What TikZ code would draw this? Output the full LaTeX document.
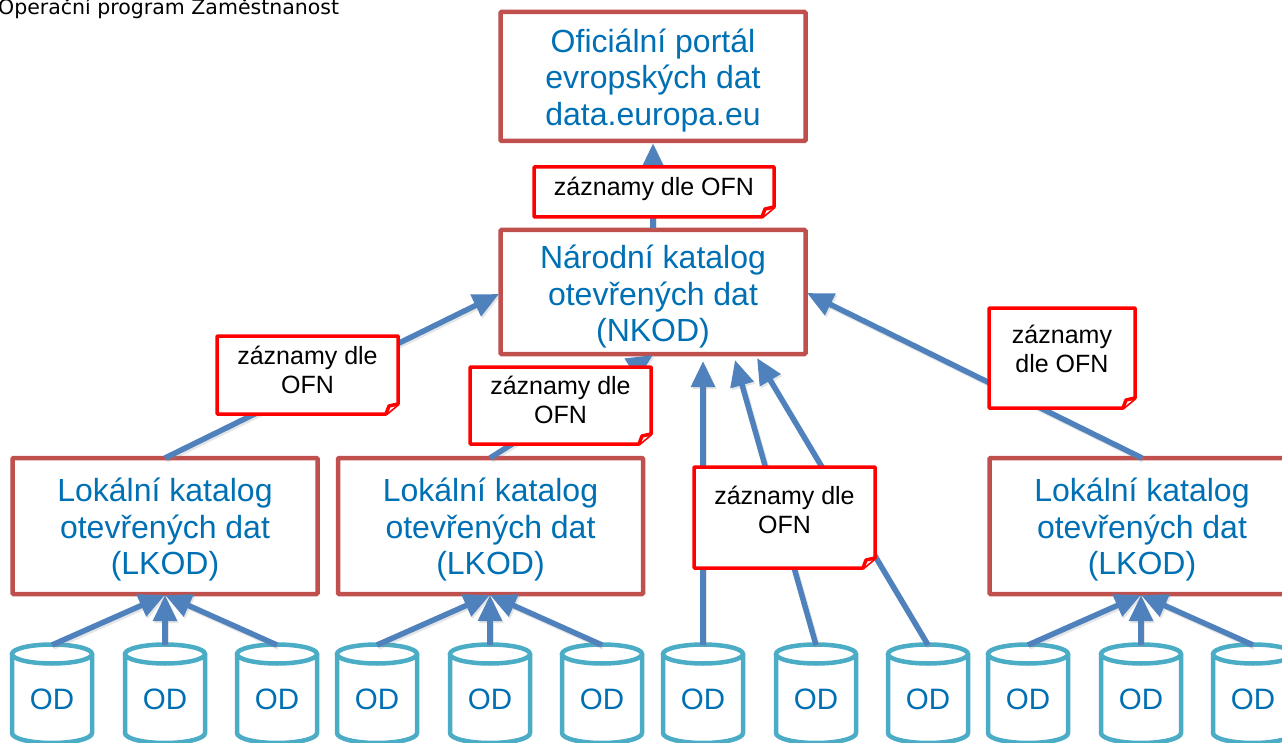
\documentclass[tikz,border=0pt]{standalone}
\usepackage{fontspec}
\setmainfont{Liberation Sans}
\newfontfamily\hdrfont{DejaVu Sans}
\usetikzlibrary{arrows.meta}
\definecolor{boxred}{HTML}{C0504D}
\definecolor{txtblue}{HTML}{0070B5}
\definecolor{cylblue}{HTML}{4BACC6}
\definecolor{arrowblue}{HTML}{4F81BD}
\tikzset{
  x=1pt,y=-1pt,
  mainbox/.style={draw=boxred,line width=4.5pt,fill=white,rounded corners=1pt,minimum width=305pt,inner sep=0pt,align=center,text=txtblue,font=\fontsize{32}{36.5}\selectfont},
  odtext/.style={text=txtblue,font=\fontsize{29.5}{32}\selectfont,inner sep=0pt},
  cylline/.style={draw=cylblue,line width=4.5pt,fill=white},
  notetext/.style={align=center,inner sep=0pt,text=black,font=\fontsize{25}{28.5}\selectfont},
  noteline/.style={draw=red,line width=3.5pt,line join=round,fill=white},
  conn/.style={draw=arrowblue,line width=5.5pt,-{Triangle[length=26pt,width=23pt]},shorten >=0pt},
  connshadow/.style={draw=black!45,opacity=.22,line width=5.5pt,-{Triangle[length=26pt,width=23pt]}},
}
\newcommand{\topgap}[1]{\rule{0pt}{#1pt}}
% name, centre x
\newcommand{\odcyl}[2]{%
  \draw[cylline] (#2-40,654) -- (#2-40,733) arc[start angle=180,end angle=360,x radius=40,y radius=-10] -- (#2+40,654);
  \draw[cylline] (#2,654) ellipse[x radius=40,y radius=9.5];
  \node[odtext] (#1) at (#2,699) {OD};
  \coordinate (#1-top) at (#2,645);
}
% name, x1, y1, x2, y2, text centre y, text
\newcommand{\notebox}[7]{%
  \draw[noteline] (#2,#3) -- (#4,#3) -- (#4,#5-10) -- (#4-12,#5) -- (#2,#5) -- cycle;
  \draw[noteline] (#4,#5-10) -- (#4-9,#5-8) -- (#4-12,#5);
  \node[notetext] (#1) at ({(#2+#4)/2},#6) {#7};
}
\newcommand{\link}[2]{%
  \draw[connshadow,transform canvas={shift={(1.5pt,-2pt)}}] (#1) -- (#2);
  \draw[conn] (#1) -- (#2);
}
\begin{document}
\begin{tikzpicture}
\useasboundingbox (0,0) rectangle (1282,743);
\clip (0,0) rectangle (1282,743);
\fill[white] (0,0) rectangle (1282,743);

\node[anchor=base west,inner sep=0pt,font=\hdrfont\fontsize{20.5}{24}\selectfont] (hdr) at (-2,15) {Operační program Zaměstnanost};

\node[mainbox,minimum height=129pt] (eu) at (653,76.5) {\topgap{31}Oficiální portál\\evropských dat\\data.europa.eu};
\node[mainbox,minimum height=124pt] (nkod) at (653,292) {\topgap{33}Národní katalog\\otevřených dat\\(NKOD)};
\node[mainbox,minimum height=136pt] (lk1) at (165,526) {\topgap{31}Lokální katalog\\otevřených dat\\(LKOD)};
\node[mainbox,minimum height=136pt] (lk2) at (490.5,526) {\topgap{31}Lokální katalog\\otevřených dat\\(LKOD)};
\node[mainbox,minimum height=136pt] (lk3) at (1142,526) {\topgap{31}Lokální katalog\\otevřených dat\\(LKOD)};

\odcyl{od1}{52}\odcyl{od2}{165}\odcyl{od3}{277}
\odcyl{od4}{377}\odcyl{od5}{490}\odcyl{od6}{602}
\odcyl{od7}{703}\odcyl{od8}{816}\odcyl{od9}{928}
\odcyl{od10}{1028}\odcyl{od11}{1141}\odcyl{od12}{1253}

\coordinate (nt7) at (703,361);
\coordinate (nt8) at (735,360);
\coordinate (nt9) at (757,358);
\coordinate (lt1) at (165,595);
\coordinate (lt2) at (490,595);
\coordinate (lt3) at (1141,595);
\coordinate (lk1from) at (165,458);
\coordinate (lk2from) at (490,458);
\coordinate (lk3from) at (1142,458);
\coordinate (nkodl) at (499,294);
\coordinate (nkodb) at (653,355);
\coordinate (nkodr) at (807,293);

\link{nkod.north}{eu.south}
\link{lk1from}{nkodl}
\link{lk2from}{nkodb}
\link{lk3from}{nkodr}
\link{od7-top}{nt7}
\link{od8-top}{nt8}
\link{od9-top}{nt9}
\link{od1-top}{lt1}\link{od2-top}{lt1}\link{od3-top}{lt1}
\link{od4-top}{lt2}\link{od5-top}{lt2}\link{od6-top}{lt2}
\link{od10-top}{lt3}\link{od11-top}{lt3}\link{od12-top}{lt3}

\notebox{n1}{534}{167}{774}{217}{189}{záznamy dle OFN}
\notebox{n2}{217}{336}{398}{414}{370}{záznamy dle\\OFN}
\notebox{n3}{470}{367}{651}{444}{400}{záznamy dle\\OFN}
\notebox{n4}{694}{467}{875}{568}{510}{záznamy dle\\OFN}
\notebox{n5}{989}{308}{1135}{408}{349}{záznamy\\dle OFN}
\end{tikzpicture}
\end{document}
